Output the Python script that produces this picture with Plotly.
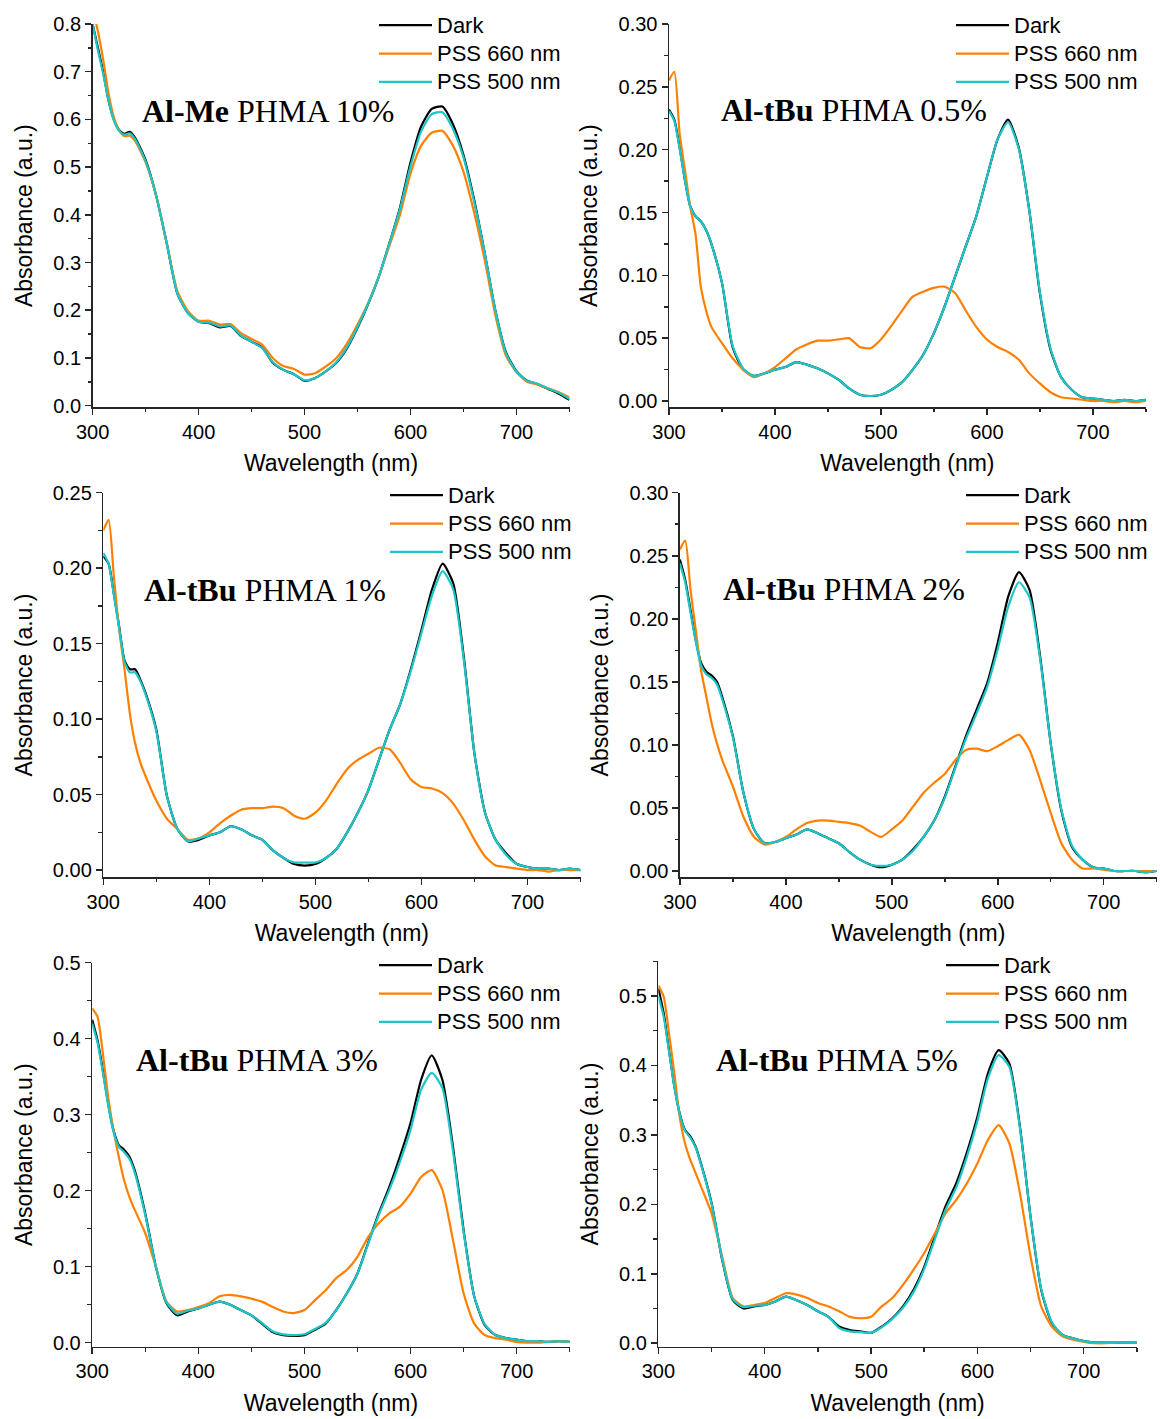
import plotly.graph_objects as go

# ---------------- data ----------------
WL = [300, 305, 310, 315, 320, 325, 330, 335, 340,
      350, 360, 370, 380, 390, 400, 410, 420, 430, 440, 450, 460, 470, 480, 490,
      500, 510, 520, 530, 540, 550, 560, 570, 580, 590, 600, 610, 620, 630, 640,
      650, 660, 670, 680, 690, 700, 710, 720, 730, 740, 750]

SERIES_NAMES = ["Dark", "PSS 660 nm", "PSS 500 nm"]

panel_titles = ["<b>Al-Me</b> PHMA 10%", "<b>Al-tBu</b> PHMA 0.5%", "<b>Al-tBu</b> PHMA 1%",
                "<b>Al-tBu</b> PHMA 2%", "<b>Al-tBu</b> PHMA 3%", "<b>Al-tBu</b> PHMA 5%"]

# Panel 1: Al-Me PHMA 10%
p1_dark = [0.80, 0.75, 0.70, 0.64, 0.60, 0.578, 0.570, 0.574, 0.562,
           0.515, 0.44, 0.34, 0.235, 0.194, 0.176, 0.173, 0.164, 0.167, 0.146, 0.134, 0.122, 0.09, 0.075, 0.066,
           0.052, 0.058, 0.072, 0.09, 0.12, 0.163, 0.213, 0.27, 0.34, 0.415, 0.51, 0.585, 0.622, 0.627, 0.59,
           0.525, 0.432, 0.32, 0.20, 0.112, 0.072, 0.052, 0.045, 0.035, 0.025, 0.012]
p1_pss660 = [0.83, 0.785, 0.725, 0.655, 0.605, 0.577, 0.565, 0.566, 0.555,
             0.51, 0.44, 0.34, 0.24, 0.198, 0.178, 0.178, 0.17, 0.171, 0.152, 0.14, 0.128, 0.10, 0.083, 0.077,
             0.065, 0.068, 0.082, 0.10, 0.13, 0.17, 0.215, 0.27, 0.335, 0.40, 0.487, 0.545, 0.572, 0.576, 0.545,
             0.49, 0.405, 0.305, 0.19, 0.105, 0.07, 0.05, 0.044, 0.036, 0.028, 0.017]
p1_pss500 = [0.80, 0.745, 0.695, 0.64, 0.598, 0.576, 0.568, 0.571, 0.559,
             0.512, 0.44, 0.34, 0.235, 0.194, 0.176, 0.174, 0.166, 0.168, 0.147, 0.134, 0.121, 0.091, 0.075, 0.066,
             0.053, 0.058, 0.072, 0.091, 0.122, 0.165, 0.214, 0.27, 0.34, 0.412, 0.502, 0.575, 0.611, 0.615, 0.58,
             0.52, 0.428, 0.32, 0.20, 0.11, 0.071, 0.052, 0.046, 0.036, 0.027, 0.014]

# Panel 2: Al-tBu PHMA 0.5%
p2_dark = [0.232, 0.224, 0.202, 0.176, 0.155, 0.147, 0.143, 0.136, 0.125,
           0.094, 0.043, 0.025, 0.020, 0.022, 0.025, 0.027, 0.031, 0.029, 0.026, 0.022, 0.017, 0.010, 0.005, 0.004,
           0.005, 0.009, 0.015, 0.025, 0.037, 0.054, 0.075, 0.099, 0.123, 0.147, 0.178, 0.208, 0.224, 0.202, 0.152,
           0.086, 0.041, 0.019, 0.009, 0.003, 0.002, 0.001, 0.000, 0.001, 0.000, 0.001]
p2_pss660 = [0.255, 0.262, 0.213, 0.184, 0.155, 0.133, 0.091, 0.072, 0.059,
             0.046, 0.034, 0.025, 0.019, 0.022, 0.027, 0.034, 0.041, 0.045, 0.048, 0.048, 0.049, 0.050, 0.043, 0.042,
             0.049, 0.060, 0.072, 0.083, 0.087, 0.090, 0.091, 0.086, 0.072, 0.059, 0.049, 0.043, 0.039, 0.033, 0.022,
             0.014, 0.007, 0.003, 0.002, 0.001, 0.000, 0.000, -0.001, 0.000, -0.001, 0.000]
p2_pss500 = [0.231, 0.223, 0.201, 0.176, 0.155, 0.147, 0.143, 0.136, 0.125,
             0.094, 0.044, 0.026, 0.020, 0.022, 0.025, 0.027, 0.031, 0.029, 0.026, 0.022, 0.017, 0.010, 0.005, 0.004,
             0.005, 0.009, 0.015, 0.025, 0.037, 0.054, 0.075, 0.099, 0.123, 0.147, 0.178, 0.208, 0.222, 0.201, 0.152,
             0.087, 0.042, 0.019, 0.009, 0.003, 0.002, 0.001, 0.000, 0.001, 0.000, 0.001]

# Panel 3: Al-tBu PHMA 1%
p3_dark = [0.208, 0.203, 0.183, 0.161, 0.139, 0.133, 0.133, 0.126, 0.117,
           0.093, 0.049, 0.027, 0.019, 0.020, 0.023, 0.025, 0.029, 0.027, 0.023, 0.020, 0.013, 0.008, 0.004, 0.003,
           0.004, 0.008, 0.014, 0.025, 0.038, 0.053, 0.073, 0.093, 0.110, 0.133, 0.159, 0.186, 0.203, 0.190, 0.141,
           0.077, 0.038, 0.020, 0.011, 0.004, 0.002, 0.001, 0.001, 0.000, 0.001, 0.000]
p3_pss660 = [0.225, 0.232, 0.194, 0.159, 0.133, 0.104, 0.084, 0.071, 0.062,
             0.046, 0.034, 0.027, 0.020, 0.021, 0.025, 0.031, 0.036, 0.040, 0.041, 0.041, 0.042, 0.041, 0.036, 0.034,
             0.038, 0.046, 0.057, 0.067, 0.073, 0.077, 0.081, 0.080, 0.071, 0.060, 0.055, 0.054, 0.051, 0.044, 0.033,
             0.020, 0.009, 0.003, 0.002, 0.001, 0.000, 0.000, -0.001, 0.000, 0.000, 0.000]
p3_pss500 = [0.210, 0.203, 0.182, 0.160, 0.138, 0.131, 0.131, 0.125, 0.116,
             0.092, 0.049, 0.027, 0.019, 0.021, 0.023, 0.025, 0.029, 0.027, 0.023, 0.020, 0.013, 0.008, 0.005, 0.005,
             0.005, 0.008, 0.014, 0.025, 0.038, 0.053, 0.073, 0.093, 0.110, 0.132, 0.157, 0.182, 0.198, 0.186, 0.139,
             0.077, 0.038, 0.020, 0.010, 0.004, 0.002, 0.001, 0.001, 0.000, 0.001, 0.000]

# Panel 4: Al-tBu PHMA 2%
p4_dark = [0.247, 0.231, 0.207, 0.183, 0.165, 0.158, 0.155, 0.150, 0.138,
           0.107, 0.062, 0.033, 0.022, 0.023, 0.026, 0.029, 0.033, 0.030, 0.026, 0.022, 0.015, 0.009, 0.005, 0.003,
           0.005, 0.009, 0.017, 0.027, 0.040, 0.059, 0.083, 0.107, 0.128, 0.149, 0.181, 0.218, 0.237, 0.223, 0.170,
           0.101, 0.048, 0.019, 0.009, 0.003, 0.002, 0.000, 0.000, 0.000, -0.001, 0.000]
p4_pss660 = [0.255, 0.262, 0.223, 0.191, 0.159, 0.138, 0.117, 0.101, 0.088,
             0.067, 0.043, 0.027, 0.021, 0.023, 0.027, 0.033, 0.038, 0.040, 0.040, 0.039, 0.038, 0.036, 0.031, 0.027,
             0.033, 0.040, 0.051, 0.062, 0.070, 0.077, 0.088, 0.096, 0.097, 0.095, 0.099, 0.104, 0.108, 0.096, 0.072,
             0.046, 0.022, 0.009, 0.002, 0.002, 0.001, 0.000, 0.000, 0.000, 0.000, 0.000]
p4_pss500 = [0.244, 0.229, 0.205, 0.182, 0.163, 0.156, 0.153, 0.148, 0.136,
             0.106, 0.062, 0.033, 0.022, 0.023, 0.026, 0.029, 0.033, 0.030, 0.026, 0.022, 0.015, 0.009, 0.005, 0.004,
             0.005, 0.009, 0.016, 0.027, 0.040, 0.058, 0.082, 0.105, 0.125, 0.146, 0.176, 0.210, 0.229, 0.217, 0.168,
             0.101, 0.049, 0.020, 0.009, 0.003, 0.002, 0.000, 0.000, 0.000, -0.001, 0.000]

# Panel 5: Al-tBu PHMA 3%
p5_dark = [0.425, 0.398, 0.359, 0.315, 0.280, 0.260, 0.254, 0.245, 0.227,
           0.170, 0.100, 0.052, 0.036, 0.041, 0.045, 0.050, 0.054, 0.050, 0.043, 0.036, 0.025, 0.014, 0.010, 0.009,
           0.010, 0.017, 0.025, 0.043, 0.065, 0.091, 0.131, 0.170, 0.205, 0.245, 0.289, 0.346, 0.378, 0.346, 0.258,
           0.148, 0.061, 0.023, 0.010, 0.006, 0.004, 0.002, 0.002, 0.001, 0.002, 0.001]
p5_pss660 = [0.44, 0.429, 0.381, 0.324, 0.280, 0.245, 0.214, 0.192, 0.175,
             0.144, 0.100, 0.054, 0.041, 0.043, 0.047, 0.052, 0.061, 0.063, 0.061, 0.058, 0.054, 0.047, 0.041, 0.039,
             0.043, 0.056, 0.069, 0.085, 0.096, 0.113, 0.139, 0.157, 0.170, 0.179, 0.196, 0.218, 0.227, 0.201, 0.135,
             0.065, 0.025, 0.010, 0.006, 0.004, 0.001, 0.000, 0.000, 0.001, 0.002, 0.001]
p5_pss500 = [0.420, 0.395, 0.356, 0.313, 0.278, 0.258, 0.251, 0.242, 0.224,
             0.168, 0.100, 0.053, 0.038, 0.042, 0.045, 0.050, 0.054, 0.050, 0.043, 0.036, 0.026, 0.015, 0.011, 0.010,
             0.011, 0.018, 0.026, 0.043, 0.065, 0.091, 0.130, 0.168, 0.201, 0.238, 0.280, 0.333, 0.355, 0.335, 0.252,
             0.146, 0.061, 0.024, 0.010, 0.006, 0.004, 0.002, 0.002, 0.001, 0.002, 0.001]

# Panel 6: Al-tBu PHMA 5%
p6_dark = [0.511, 0.475, 0.422, 0.370, 0.331, 0.307, 0.298, 0.283, 0.259,
           0.202, 0.120, 0.062, 0.050, 0.053, 0.055, 0.060, 0.067, 0.062, 0.055, 0.046, 0.038, 0.024, 0.019, 0.017,
           0.015, 0.024, 0.036, 0.053, 0.077, 0.110, 0.154, 0.197, 0.230, 0.274, 0.326, 0.389, 0.422, 0.403, 0.312,
           0.182, 0.077, 0.029, 0.012, 0.007, 0.003, 0.001, 0.001, 0.001, 0.001, 0.001]
p6_pss660 = [0.515, 0.499, 0.446, 0.389, 0.326, 0.288, 0.264, 0.245, 0.226,
             0.187, 0.125, 0.065, 0.053, 0.055, 0.058, 0.065, 0.072, 0.070, 0.065, 0.058, 0.053, 0.046, 0.038, 0.036,
             0.038, 0.053, 0.065, 0.084, 0.106, 0.130, 0.158, 0.187, 0.206, 0.230, 0.259, 0.293, 0.314, 0.288, 0.216,
             0.125, 0.053, 0.024, 0.010, 0.005, 0.002, 0.000, 0.000, 0.001, 0.001, 0.001]
p6_pss500 = [0.500, 0.470, 0.420, 0.369, 0.330, 0.306, 0.296, 0.282, 0.258,
             0.201, 0.121, 0.063, 0.052, 0.054, 0.055, 0.060, 0.067, 0.062, 0.055, 0.046, 0.038, 0.022, 0.017, 0.016,
             0.015, 0.023, 0.035, 0.051, 0.074, 0.107, 0.150, 0.192, 0.224, 0.268, 0.320, 0.382, 0.415, 0.398, 0.310,
             0.182, 0.078, 0.030, 0.012, 0.007, 0.003, 0.001, 0.001, 0.001, 0.001, 0.001]

panels_data = [
    (p1_dark, p1_pss660, p1_pss500),
    (p2_dark, p2_pss660, p2_pss500),
    (p3_dark, p3_pss660, p3_pss500),
    (p4_dark, p4_pss660, p4_pss500),
    (p5_dark, p5_pss660, p5_pss500),
    (p6_dark, p6_pss660, p6_pss500),
]

# axis configuration (y ranges, tick steps, tick formats)
y_ranges = [(-0.0035, 0.8), (-0.005, 0.30), (-0.0048, 0.25), (-0.005, 0.30), (-0.0053, 0.5), (-0.005, 0.55)]
y_dticks = [0.1, 0.05, 0.05, 0.05, 0.1, 0.1]
y_formats = [".1f", ".2f", ".2f", ".2f", ".1f", ".1f"]

# ---------------- layout geometry ----------------
W, H = 1160, 1419
# pixel boxes of each plot area: (x0, x1, ytop, ybottom)
boxes = [
    (92.6, 569.5, 24.0, 407.3),
    (669.0, 1145.8, 24.0, 407.3),
    (103.3, 580.5, 492.7, 877.3),
    (679.9, 1156.7, 492.7, 877.3),
    (92.2, 569.7, 962.7, 1346.7),
    (658.4, 1136.9, 961.3, 1346.7),
]
# legend text start x, first row centre y
legend_pos = [(437, 25), (1014, 25), (448, 495), (1024, 495), (437, 965), (1004, 965)]
# annotation left x, centre y
annot_pos = [(143.5, 111), (722.4, 110), (145.4, 590), (724.3, 589), (137.8, 1060), (717.5, 1060)]

COLORS = ["#000000", "#FF8000", "#1BC6C9"]
AX_COLOR = "#262626"
SANS = "Liberation Sans, Arial, sans-serif"
SERIF = "Liberation Serif, Times New Roman, serif"
LEG_ITEMW = 53
LEG_ROW_FONT = 19.5   # sets legend row spacing
LEG_TEXT_SIZE = 22    # visible size of legend text

fig = go.Figure()
layout = dict(
    template="none",
    width=W, height=H,
    margin=dict(l=0, r=0, t=0, b=0, pad=0),
    paper_bgcolor="white", plot_bgcolor="white",
    font=dict(family=SANS, color="black"),
    annotations=[],
)

for i, (data, box) in enumerate(zip(panels_data, boxes)):
    k = i + 1
    xa = "x" if k == 1 else f"x{k}"
    ya = "y" if k == 1 else f"y{k}"
    lg = "legend" if k == 1 else f"legend{k}"
    for name, vals, col in zip(SERIES_NAMES, data, COLORS):
        fig.add_trace(go.Scatter(
            x=WL, y=vals,
            name=f"<span style='font-size:{LEG_TEXT_SIZE}px'>{name}</span>",
            mode="lines",
            line=dict(color=col, width=2.2, shape="spline", smoothing=0.6),
            xaxis=xa, yaxis=ya, legend=lg, cliponaxis=True, showlegend=True,
        ))
    x0, x1, yt, yb = box
    xkey = "xaxis" if k == 1 else f"xaxis{k}"
    ykey = "yaxis" if k == 1 else f"yaxis{k}"
    common = dict(
        showline=True, linecolor=AX_COLOR, linewidth=1.5,
        ticks="outside", ticklen=6, tickwidth=1.5, tickcolor=AX_COLOR,
        showgrid=False, zeroline=False, automargin=False,
        tickfont=dict(family=SANS, size=20, color="black"),
    )
    layout[xkey] = dict(
        common,
        domain=[x0 / W, x1 / W], anchor=ya,
        range=[300, 750], tick0=300, dtick=100,
        minor=dict(dtick=50, ticks="outside", ticklen=3.5, tickwidth=1.5, tickcolor=AX_COLOR, showgrid=False),
        title=dict(text="Wavelength (nm)", font=dict(family=SANS, size=23, color="black"), standoff=13),
    )
    layout[ykey] = dict(
        common,
        domain=[1 - yb / H, 1 - yt / H], anchor=xa,
        range=list(y_ranges[i]), tick0=0, dtick=y_dticks[i], tickformat=y_formats[i],
        minor=dict(dtick=y_dticks[i] / 2, ticks="outside", ticklen=3.5, tickwidth=1.5, tickcolor=AX_COLOR, showgrid=False),
        title=dict(text="Absorbance (a.u.)", font=dict(family=SANS, size=23, color="black"), standoff=14),
    )
    tx, ty = legend_pos[i]
    layout[lg] = dict(
        x=(tx - LEG_ITEMW - 10) / W, y=1 - (ty - 19) / H, xanchor="left", yanchor="top",
        bgcolor="rgba(0,0,0,0)", borderwidth=0,
        font=dict(family=SANS, size=LEG_ROW_FONT, color="black"),
        tracegroupgap=0, itemwidth=LEG_ITEMW,
    )
    ax, ay = annot_pos[i]
    layout["annotations"].append(dict(
        text=panel_titles[i], xref="paper", yref="paper",
        x=(ax - 3.5) / W, y=1 - ay / H, xanchor="left", yanchor="middle",
        showarrow=False, font=dict(family=SERIF, size=32, color="black"),
    ))

fig.update_layout(**layout)
fig.write_html(
    "out.html",
    config={"displayModeBar": False, "staticPlot": True},
    post_script="document.body.style.margin='0';document.body.style.overflow='hidden';",
)
